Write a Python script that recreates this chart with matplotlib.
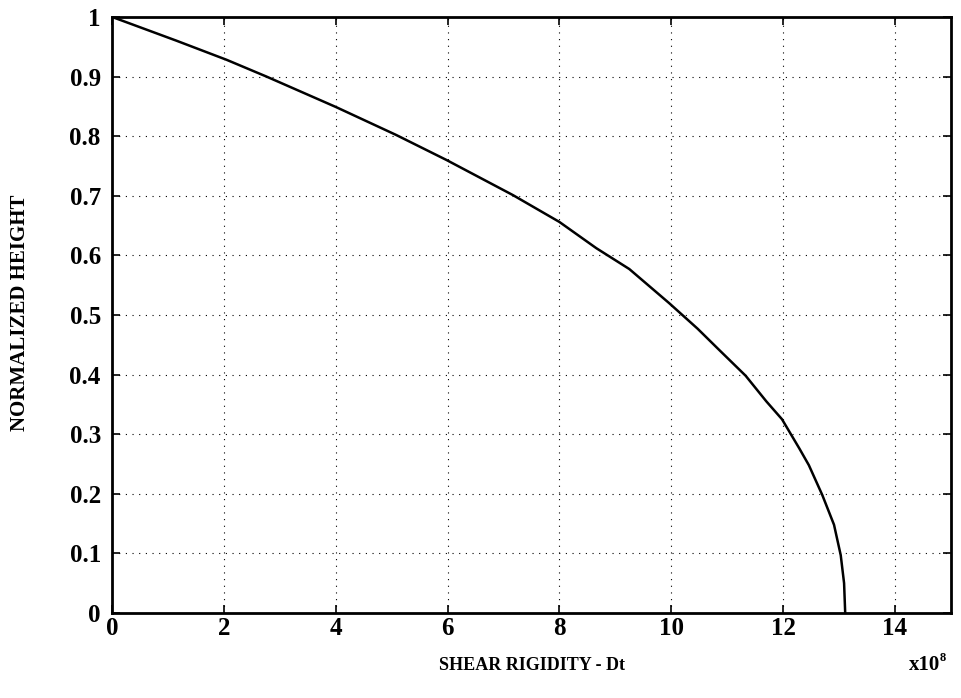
import matplotlib
matplotlib.use('Agg')
import matplotlib.pyplot as plt
import numpy as np

# curve (x in units of 1e8)
rigidity = [0.0, 1.155, 2.05, 2.76, 4.0, 5.08, 5.98, 7.17, 8.0, 8.66, 9.25, 9.96,
            10.47, 10.86, 11.33, 11.70, 11.98, 12.29, 12.46, 12.70, 12.91, 13.03, 13.09, 13.11]
height = [1.0, 0.960, 0.928, 0.9, 0.849, 0.802, 0.760, 0.701, 0.656, 0.612, 0.577, 0.52,
          0.477, 0.441, 0.398, 0.355, 0.325, 0.276, 0.248, 0.198, 0.148, 0.097, 0.05, 0.0]

xticks = [0, 2, 4, 6, 8, 10, 12, 14]
yticks = [0, 0.1, 0.2, 0.3, 0.4, 0.5, 0.6, 0.7, 0.8, 0.9, 1]
ytick_labels = ['0', '0.1', '0.2', '0.3', '0.4', '0.5', '0.6', '0.7', '0.8', '0.9', '1']

plt.rcParams['font.family'] = ['Liberation Serif', 'DejaVu Serif']
plt.rcParams['font.weight'] = 'bold'

fig = plt.figure(figsize=(9.61, 6.98), dpi=100)
ax = fig.add_axes([0.1165, 0.1218, 0.873, 0.854])

ax.plot(rigidity, height, color='black', linewidth=1.8)

ax.set_xlim(0, 15)
ax.set_ylim(0, 1)
ax.set_xticks(xticks)
ax.set_xticklabels([str(t) for t in xticks], fontsize=18, fontweight='bold')
ax.set_yticks(yticks)
ax.set_yticklabels(ytick_labels, fontsize=18, fontweight='bold')
ax.tick_params(direction='in', length=6, width=1.2, top=True, right=True)
ax.tick_params(axis='y', pad=8)
ax.tick_params(axis='x', pad=3)
ax.grid(True, color='black', linestyle=(0, (1, 5)), linewidth=0.8)
for s in ax.spines.values():
    s.set_linewidth(2)

fig.text(0.554, 0.047, 'SHEAR RIGIDITY - Dt', ha='center', va='center', fontsize=13, fontweight='bold')
fig.text(0.962, 0.047, 'x10', ha='center', va='center', fontsize=15, fontweight='bold')
fig.text(0.9805, 0.057, '8', ha='center', va='center', fontsize=9, fontweight='bold')
fig.text(0.021, 0.552, 'NORMALIZED HEIGHT', ha='center', va='center', rotation=90, fontsize=15, fontweight='bold')

plt.savefig('out.png', dpi=100)
